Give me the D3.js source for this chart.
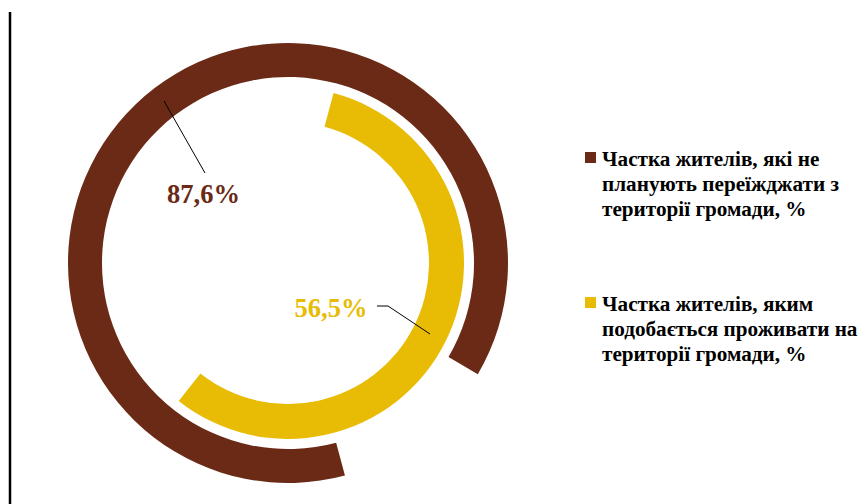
<!DOCTYPE html>
<html>
<head>
<meta charset="utf-8">
<script src="https://cdn.jsdelivr.net/npm/d3@7"></script>
<style>
html, body { margin: 0; padding: 0; background: #fff; }
svg { display: block; }
text { font-family: "Liberation Serif", "Times New Roman", serif; font-weight: bold; }
</style>
</head>
<body>
<svg id="chart" width="861" height="504"></svg>
<script>
// ---- data ----
const categories = [
  "Частка жителів, які не планують переїжджати з території громади, %",
  "Частка жителів, яким подобається проживати на території громади, %"
];
const legendLines = [
  ["Частка жителів, які не", "планують переїжджати з", "території громади, %"],
  ["Частка жителів, яким", "подобається проживати на", "території громади, %"]
];
const values = [87.6, 56.5];
const valueLabels = ["87,6%", "56,5%"];
const colors = ["#6B2A16", "#E8BC05"];
const startDeg = [165, 15];

// ---- layout ----
const svg = d3.select("#chart");
const cx = 288, cy = 263;
const rings = [[186, 220], [141, 176]];

const angle = d3.scaleLinear().domain([0, 100]).range([0, 2 * Math.PI]);
const arc = d3.arc();

// left vertical rule
svg.append("line")
  .attr("x1", 10).attr("x2", 10).attr("y1", 12).attr("y2", 504)
  .attr("stroke", "#000").attr("stroke-width", 2.5);

const g = svg.append("g").attr("transform", `translate(${cx},${cy})`);

values.forEach((v, i) => {
  const s = startDeg[i] * Math.PI / 180;
  g.append("path")
    .attr("d", arc({
      innerRadius: rings[i][0],
      outerRadius: rings[i][1],
      startAngle: s,
      endAngle: s + angle(v)
    }))
    .attr("fill", colors[i]);
});

// leader lines
g.append("polyline")
  .attr("points", "-124,-162 -83,-90")
  .attr("fill", "none").attr("stroke", "#000").attr("stroke-width", 1);
g.append("polyline")
  .attr("points", "89,43 100,43 142,71")
  .attr("fill", "none").attr("stroke", "#000").attr("stroke-width", 1);

// value labels
const labelPos = [[-84.5, -60], [43, 54]];
valueLabels.forEach((t, i) => {
  g.append("text")
    .attr("x", labelPos[i][0]).attr("y", labelPos[i][1])
    .attr("text-anchor", "middle")
    .attr("font-size", 26.5)
    .attr("fill", colors[i])
    .text(t);
});

// legend
const legendY = [166, 311];
legendLines.forEach((lines, i) => {
  const lg = svg.append("g").attr("transform", `translate(585,${legendY[i]})`);
  lg.append("rect")
    .attr("x", 0).attr("y", -14).attr("width", 11).attr("height", 11)
    .attr("fill", colors[i]);
  const txt = lg.append("text")
    .attr("x", 17).attr("y", 0)
    .attr("font-size", 21.2)
    .attr("fill", "#000");
  lines.forEach((l, j) => {
    txt.append("tspan").attr("x", 17).attr("dy", j === 0 ? 0 : 24.8).text(l);
  });
});
</script>
</body>
</html>
